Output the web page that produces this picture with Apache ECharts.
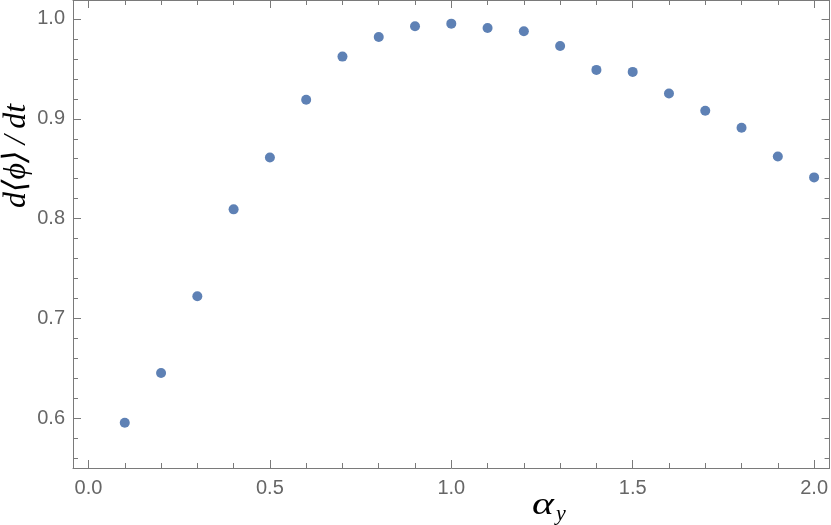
<!DOCTYPE html>
<html>
<head>
<meta charset="utf-8">
<script src="https://cdn.jsdelivr.net/npm/echarts@6/dist/echarts.min.js"></script>
<style>
html,body{margin:0;padding:0;background:#fff;}
#chart{width:831px;height:525px;}
</style>
</head>
<body>
<div id="chart"></div>
<script>
// data
var alphaY = [0.1,0.2,0.3,0.4,0.5,0.6,0.7,0.8,0.9,1.0,1.1,1.2,1.3,1.4,1.5,1.6,1.7,1.8,1.9,2.0];
var phaseRate = [0.5956,0.6453,0.7223,0.8093,0.8613,0.919,0.9623,0.982,0.9927,0.9953,0.991,0.9877,0.973,0.949,0.947,0.9253,0.908,0.891,0.8623,0.8413];
var xMajorTicks = [0,0.5,1.0,1.5,2.0];
var xMinorTicks = [0.1,0.2,0.3,0.4,0.6,0.7,0.8,0.9,1.1,1.2,1.3,1.4,1.6,1.7,1.8,1.9];
var yMajorTicks = [0.6,0.7,0.8,0.9,1.0];
var yMinorTicks = [0.56,0.58,0.62,0.64,0.66,0.68,0.72,0.74,0.76,0.78,0.82,0.84,0.86,0.88,0.92,0.94,0.96,0.98];
var xLabelMain = 'α', xLabelSub = 'y';
var yLabelText = 'd⟨ϕ⟩\u2009/\u2009dt';

var X_MIN = -0.0427, X_MAX = 2.0427, Y_MIN = 0.5502, Y_MAX = 1.019;
var lineColor = '#7a7a7a', labelColor = '#666666';

function mkAxis(pos, major, vals, isX) {
  return {
    type: 'value', position: pos, min: isX ? X_MIN : Y_MIN, max: isX ? X_MAX : Y_MAX,
    splitLine: {show: false},
    axisLine: {show: major, onZero: false, lineStyle: {color: lineColor, width: 1}},
    axisTick: {show: true, inside: true, length: major ? 8 : 5, customValues: vals,
               lineStyle: {color: lineColor, width: 1}},
    axisLabel: {show: false},
    axisPointer: {show: false}
  };
}

var xAxes = [
  mkAxis('bottom', true, xMajorTicks, true),
  mkAxis('bottom', false, xMinorTicks, true),
  mkAxis('top', true, xMajorTicks, true),
  mkAxis('top', false, xMinorTicks, true)
];
xAxes[0].axisLabel = {show: true, customValues: xMajorTicks, margin: 10, color: labelColor,
  fontSize: 20, fontFamily: 'Liberation Sans', formatter: function(v){return v.toFixed(1);}};
var yAxes = [
  mkAxis('left', true, yMajorTicks, false),
  mkAxis('left', false, yMinorTicks, false),
  mkAxis('right', true, yMajorTicks, false),
  mkAxis('right', false, yMinorTicks, false)
];
yAxes[0].axisLabel = {show: true, customValues: yMajorTicks, margin: 8, color: labelColor,
  fontSize: 20, fontFamily: 'Liberation Sans', formatter: function(v){return v.toFixed(1);}};

var chart = echarts.init(document.getElementById('chart'), null, {renderer: 'canvas'});
chart.setOption({
  animation: false,
  backgroundColor: '#ffffff',
  grid: {left: 73, right: 1, top: 0, bottom: 57, containLabel: false},
  xAxis: xAxes,
  yAxis: yAxes,
  series: [{
    type: 'scatter', xAxisIndex: 0, yAxisIndex: 0,
    symbol: 'circle', symbolSize: 10,
    itemStyle: {color: '#5E81B5', opacity: 1},
    data: alphaY.map(function(x, i){ return [x, phaseRate[i]]; })
  }],
  graphic: [
    {type: 'text', x: 532, y: 506, scaleX: 1.3, style: {text: xLabelMain, font: 'italic 32px "Liberation Serif"', fill: '#000',
      textAlign: 'left', textVerticalAlign: 'middle', verticalAlign: 'middle'}},
    {type: 'text', x: 556, y: 514.5, style: {text: xLabelSub, font: 'italic 22px "Liberation Serif"', fill: '#000',
      textAlign: 'left', textVerticalAlign: 'middle', verticalAlign: 'middle'}},
    {type: 'text', x: 17, y: 156, rotation: Math.PI/2, style: {text: yLabelText, font: 'italic 32px "Liberation Serif", "DejaVu Serif"', fill: '#000',
      textAlign: 'center', textVerticalAlign: 'middle', verticalAlign: 'middle'}}
  ]
});
</script>
</body>
</html>
